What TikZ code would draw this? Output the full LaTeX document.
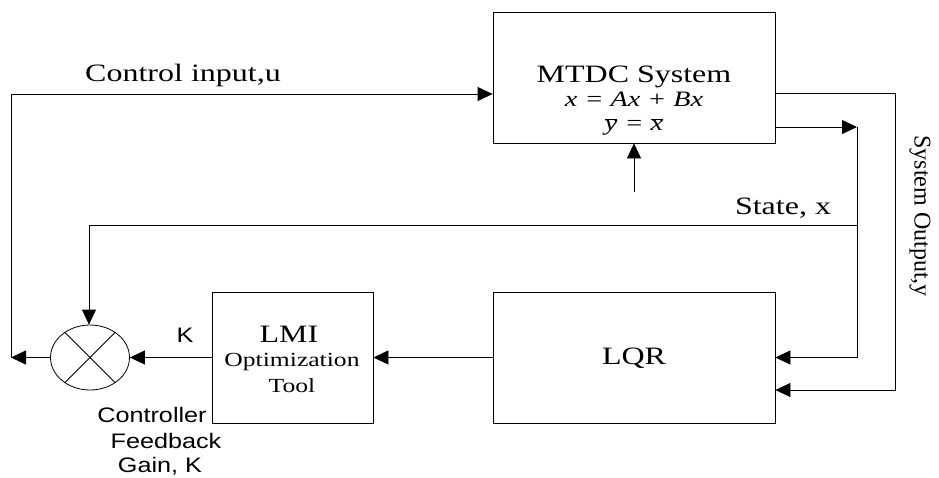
\documentclass[tikz,border=0pt]{standalone}
\usepackage{fontspec}
\usepackage{graphicx}
\setmainfont{Liberation Serif}
\setsansfont{Liberation Sans}
\usetikzlibrary{arrows.meta,shapes.geometric}
\newcommand\sx[2][1.28]{\scalebox{#1}[1]{#2}}
\tikzset{
  blk/.style={draw, line width=0.8pt, inner sep=0pt},
  conn/.style={line width=0.8pt},
  arr/.style={conn, -{Triangle[length=15pt,width=14pt]}},
  big/.style={font=\fontsize{25}{28}\selectfont, inner sep=0pt},
  mid/.style={font=\fontsize{20}{23}\selectfont, inner sep=0pt},
  eqn/.style={font=\fontsize{22}{24}\selectfont\itshape, inner sep=0pt},
  sanslbl/.style={font=\sffamily\fontsize{21}{24}\selectfont, inner sep=0pt},
  rotlbl/.style={font=\fontsize{24}{27}\selectfont, inner sep=0pt, rotate=-90},
}
\begin{document}
\begin{tikzpicture}[x=1pt,y=-1pt]
\useasboundingbox (0,0) rectangle (939,477);
% blocks
\node[blk, minimum width=282pt, minimum height=131pt] (mtdc) at (634,77.5) {};
\node[blk, minimum width=161pt, minimum height=131pt] (lmi) at (292.5,357.5) {};
\node[blk, minimum width=282pt, minimum height=131pt] (lqr) at (634,357.5) {};
\node[draw, line width=0.8pt, ellipse, minimum width=79pt, minimum height=65pt, inner sep=0pt] (mult) at (90,357.5) {};
\draw[conn] (mult.45) -- (mult.225);
\draw[conn] (mult.135) -- (mult.-45);
% texts
\node[big] (tmtdc) at (634,77) {\sx{MTDC System}};
\node[eqn] (eq1) at (634,99) {\sx{x = Ax + Bx}};
\node[eqn] (eq2) at (634,127) {\sx{$\overline{\mbox{\itshape y}}$ = $\overline{\mbox{\itshape x}}$}};
\node[big] (tlmi) at (289,334) {\sx{LMI}};
\node[mid] (topt) at (292,362) {\sx{Optimization}};
\node[mid] (ttool) at (292,386) {\sx{Tool}};
\node[big] (tlqr) at (634,358) {\sx{LQR}};
\node[big] (tctrl) at (183,75) {\sx{Control input,u}};
\node[big] (tstate) at (783,208) {\sx{State, x}};
\node[sanslbl] (tk) at (185,335) {\sx[1.2]{K}};
\node[sanslbl] (tc1) at (152,415) {\sx[1.2]{Controller}};
\node[sanslbl] (tc2) at (166,441) {\sx[1.2]{Feedback}};
\node[sanslbl] (tc3) at (160,466) {\sx[1.2]{Gain, K}};
\node[rotlbl] (tsys) at (920,216) {System Output,y};
% coordinates
\coordinate (cl) at (11,357.5);
\coordinate (ctop) at (11,94);
\coordinate (o1a) at (895,93);
\coordinate (o1b) at (895,390);
\coordinate (o2a) at (857,127);
\coordinate (o2b) at (857,357.5);
\coordinate (sa) at (857,225);
\coordinate (sb) at (89,225);
\coordinate (up) at (634,192);
% connectors
\draw[arr] (mult.west) -- (cl);
\draw[arr] (cl) -- (ctop) -- (mtdc.west |- ctop);
\draw[arr] (mtdc.east |- o1a) -- (o1a) -- (o1b) -- (lqr.east |- o1b);
\draw[arr] (mtdc.east |- o2a) -- (o2a);
\draw[arr] (o2a) -- (o2b) -- (lqr.east);
\draw[arr] (sa) -- (sb) -- (mult.north -| sb);
\draw[arr] (up) -- (mtdc.south -| up);
\draw[arr] (lqr.west) -- (lmi.east);
\draw[arr] (lmi.west) -- (mult.east);
\end{tikzpicture}
\end{document}
